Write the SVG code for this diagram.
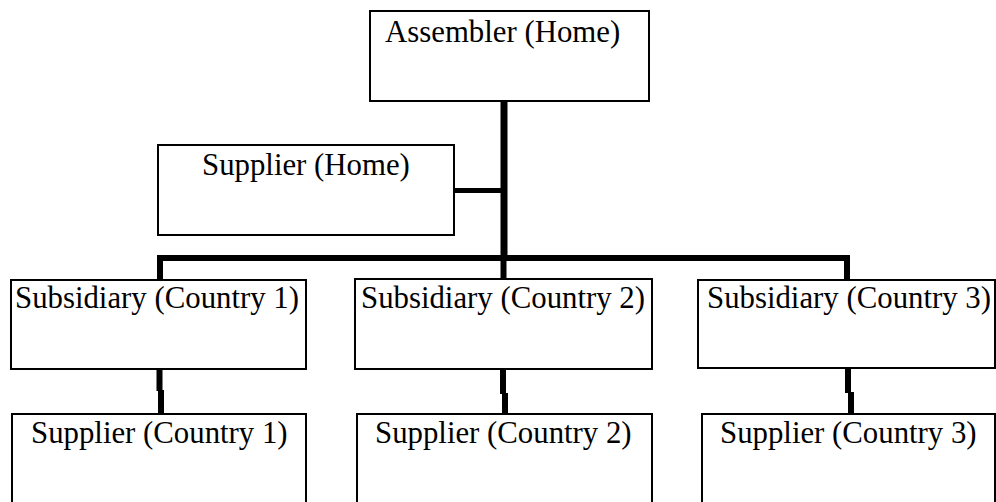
<svg xmlns="http://www.w3.org/2000/svg" width="996" height="502" viewBox="0 0 996 502">
<style>
.box{fill:#fff;stroke:#000;stroke-width:2}
.lbl{font-family:"Liberation Serif","Times New Roman",serif;font-size:30.8px;fill:#000}
.c{fill:none;stroke:#000;stroke-linecap:butt;stroke-linejoin:miter}
</style>
<rect width="996" height="502" fill="#fff"/>
<g id="connectors">
<path class="c" d="M504,101 V258" stroke-width="7"/>
<path class="c" d="M454,190.5 H504" stroke-width="5"/>
<path class="c" d="M160,280 V258 H847 V280" stroke-width="6"/>
<path class="c" d="M503.5,258 V279" stroke-width="6"/>
<path class="c" d="M159.5,369 V391 M161,390 V414" stroke-width="6"/>
<path class="c" d="M503,369 V394 M505,393 V414" stroke-width="6"/>
<path class="c" d="M848,368 V393 M851,392 V414" stroke-width="6"/>
</g>
<g id="assembler">
<rect class="box" x="370" y="11" width="279" height="90"/>
<text class="lbl" x="385" y="42">Assembler (Home)</text>
</g>
<g id="supplier-home">
<rect class="box" x="158" y="145" width="296" height="90"/>
<text class="lbl" x="202" y="175">Supplier (Home)</text>
</g>
<g id="subsidiary-1">
<rect class="box" x="11" y="280" width="295" height="89"/>
<text class="lbl" x="15" y="308">Subsidiary (Country 1)</text>
</g>
<g id="subsidiary-2">
<rect class="box" x="355" y="279" width="297" height="90"/>
<text class="lbl" x="361" y="308">Subsidiary (Country 2)</text>
</g>
<g id="subsidiary-3">
<rect class="box" x="698" y="280" width="297" height="88"/>
<text class="lbl" x="707" y="308">Subsidiary (Country 3)</text>
</g>
<g id="supplier-1">
<rect class="box" x="12" y="414" width="294" height="110"/>
<text class="lbl" x="31" y="443">Supplier (Country 1)</text>
</g>
<g id="supplier-2">
<rect class="box" x="357" y="414" width="295" height="110"/>
<text class="lbl" x="375" y="443">Supplier (Country 2)</text>
</g>
<g id="supplier-3">
<rect class="box" x="702" y="414" width="293" height="110"/>
<text class="lbl" x="720" y="443">Supplier (Country 3)</text>
</g>
</svg>
